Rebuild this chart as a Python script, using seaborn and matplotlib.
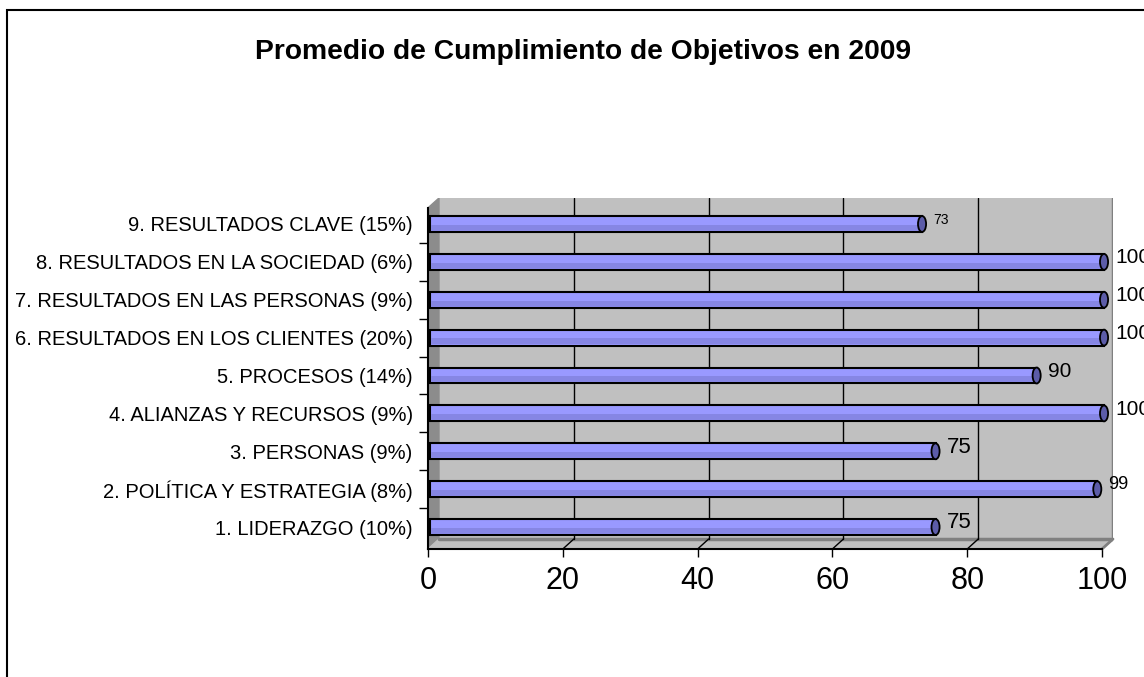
import numpy as np
import matplotlib.pyplot as plt
import seaborn as sns
from matplotlib.patches import Ellipse, Rectangle

# Datos del grafico (de arriba hacia abajo)
categorias = [
    "9. RESULTADOS CLAVE (15%)",
    "8. RESULTADOS EN LA SOCIEDAD (6%)",
    "7. RESULTADOS EN LAS PERSONAS (9%)",
    "6. RESULTADOS EN LOS CLIENTES (20%)",
    "5. PROCESOS (14%)",
    "4. ALIANZAS Y RECURSOS (9%)",
    "3. PERSONAS (9%)",
    "2. POLÍTICA Y ESTRATEGIA (8%)",
    "1. LIDERAZGO (10%)",
]
valores = [73, 100, 100, 100, 90, 100, 75, 99, 75]
ticks_x = [0, 20, 40, 60, 80, 100]
titulo = "Promedio de Cumplimiento de Objetivos en 2009"

# tamanos de las etiquetas de datos (como en el original, no todos iguales)
tam_etiquetas = [10, 15, 15, 15, 15, 15, 16, 13, 16]

sns.set_theme(style="white")
plt.rcParams["font.family"] = ["Liberation Sans", "DejaVu Sans"]
plt.rcParams["text.color"] = "black"
plt.rcParams["xtick.labelcolor"] = "black"
plt.rcParams["ytick.labelcolor"] = "black"

W, H = 1144, 677
fig = plt.figure(figsize=(W / 100, H / 100), dpi=100)
ax = fig.add_axes([428 / W, 1 - 549 / H, 685 / W, 351 / H])
ax.set_facecolor("none")

# limites: 0 -> 428px, 100 -> 1102px; fondo 3D con profundidad
prof = 1.63
x_max = 100 + prof
y_sup, y_pared, y_suelo = -0.686, 8.317, 8.58

# pared del fondo, pared lateral y suelo (efecto 3D de Excel)
ax.fill([prof, x_max, x_max, prof], [y_sup, y_sup, y_pared, y_pared],
        color="#C0C0C0", zorder=0)
ax.fill([0, prof, prof, 0], [y_sup + 0.26, y_sup, y_pared, y_suelo],
        color="#8C8C8C", zorder=0)
ax.fill([0, prof, x_max, 100], [y_suelo, y_pared, y_pared, y_suelo],
        color="#C0C0C0", zorder=0)
ax.plot([prof, x_max, x_max], [y_pared, y_pared, y_sup], color="#808080", lw=2.5, zorder=1)
ax.plot([100, x_max], [y_suelo, y_pared], color="#808080", lw=2, zorder=1, clip_on=False)

# lineas de division
for t in ticks_x[1:-1]:
    ax.plot([t + prof, t + prof], [y_sup, y_pared], color="black", lw=1, zorder=1)
    ax.plot([t, t + prof], [y_suelo, y_pared], color="black", lw=1, zorder=1)

sns.barplot(x=valores, y=categorias, orient="h", color="#9999FF", saturation=1,
            edgecolor="black", linewidth=1.5, width=0.42, ax=ax, zorder=3)

# efecto cilindro: desplazamiento, sombra inferior y tapa
barras = ax.containers[0]
for p, v, s in zip(barras, valores, tam_etiquetas):
    p.set_x(p.get_x() + 0.3)
    x0, y0, w, h = p.get_x(), p.get_y(), p.get_width(), p.get_height()
    ax.add_patch(Rectangle((x0 + 0.2, y0 + h * 0.55), w - 0.3, h * 0.38,
                           color="#8686E4", lw=0, zorder=3.5))
    ax.add_patch(Ellipse((x0 + w, y0 + h / 2), 1.2, h, facecolor="#5C5CA8",
                         edgecolor="black", lw=1.3, zorder=4))
    ax.annotate(str(v), xy=(x0 + w + 0.6, y0 + h / 2), xytext=(5, 3),
                textcoords="offset points", ha="left", va="center",
                fontsize=s, color="black", annotation_clip=False, zorder=5)

ax.set_xlim(0, x_max)
ax.set_ylim(y_suelo, y_sup)
ax.set_xlabel("")
ax.set_ylabel("")

ax.set_xticks(ticks_x)
ax.set_xticklabels([str(t) for t in ticks_x])
ax.tick_params(axis="x", bottom=True, length=6, width=1, color="black",
               labelsize=22, pad=6, direction="out")
ax.tick_params(axis="y", which="major", left=True, length=0, labelsize=14.5, pad=11)
ax.set_yticks(np.arange(0.5, len(categorias) - 1, 1), minor=True)
ax.tick_params(axis="y", which="minor", left=True, length=6.5, width=1,
               color="black", direction="out")

for lado in ["top", "right"]:
    ax.spines[lado].set_visible(False)
ax.spines["left"].set_color("black")
ax.spines["left"].set_linewidth(1.5)
ax.spines["left"].set_bounds(y_sup + 0.26, y_suelo)
ax.spines["bottom"].set_color("black")
ax.spines["bottom"].set_linewidth(1.5)
ax.spines["bottom"].set_bounds(0, 100)

fig.text(583 / W, 1 - 52 / H, titulo, ha="center", va="center",
         fontsize=20.3, fontweight="bold", color="black")

# marco exterior del grafico
fig.add_artist(Rectangle((7 / W, -0.2), 1.5, (1 - 10 / H) + 0.2,
                         transform=fig.transFigure, fill=False,
                         edgecolor="black", lw=1.5))

fig.savefig("out.png", dpi=100)
